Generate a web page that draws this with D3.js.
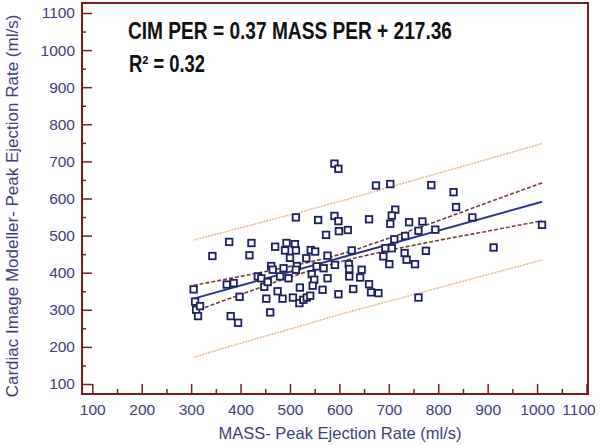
<!DOCTYPE html>
<html><head><meta charset="utf-8">
<script src="https://cdn.jsdelivr.net/npm/d3@7"></script>
<style>body{margin:0;background:#fff}svg{display:block}</style>
</head><body>
<svg id="c" width="600" height="445"></svg>
<script>
// MASS peak ejection rate (x) and CIM peak ejection rate (y), ml/s
const massPER = [305,308,310,314,318,343,377,372,386,380,395,398,418,422,435,442,448,455,452,460,462,465,470,475,480,487,490,493,497,500,485,
590,598,512,557,590,598,660,573,599,617,510,512,542,551,625,533,576,514,512,554,568,591,619,620,645,544,549,546,576,620,642,520,566,598,628,506,519,527,534,541,
674,703,786,713,706,703,741,768,760,794,733,711,693,706,689,701,732,736,753,775,660,664,679,760,831,836,869,1010,912];
const cimPER  = [355,322,300,283,310,445,483,368,372,283,265,335,447,480,390,385,362,375,330,293,418,408,470,350,390,412,460,480,385,440,330,
694,680,549,542,553,539,544,502,512,515,477,460,461,457,460,439,446,418,408,417,412,421,423,410,408,396,381,365,385,390,387,360,354,342,356,333,318,327,333,338,
635,639,636,570,554,532,536,538,513,516,499,490,466,466,444,423,453,435,423,459,369,347,345,333,617,577,549,529,468];

const xTicks = [100,200,300,400,500,600,700,800,900,1000,1100];
const yTicks = [100,200,300,400,500,600,700,800,900,1000,1100];
const xMinor = [150,250,350,450,550,650,750,850,950,1050];
const yMinor = [150,250,350,450,550,650,750,850,950,1050];

// regression line and bands
const fitX = [305,1010];
const fitY = [330.2,591.1];
const bandX   = [305,400,500,600,700,800,900,1010];
const ciUpper = [366,390,417,449,493,540,589,642];
const ciLower = [295,341,388,429,460,487,512,540];
const piUpper = [488,521,556,592,630,668,706,748];
const piLower = [172,210,248,287,323,359,395,434];

const eqText = "CIM PER = 0.37 MASS PER + 217.36";
const r2Text = "R² = 0.32";
const xTitle = "MASS- Peak Ejection Rate (ml/s)";
const yTitle = "Cardiac Image Modeller- Peak Ejection Rate (ml/s)";

const svg = d3.select("#c");
const frame = {x0:82, x1:588, y0:3, y1:394};
const x = d3.scaleLinear().domain([100,1100]).range([92.3,586.5]);
const y = d3.scaleLinear().domain([100,1100]).range([384,13]);
const frameCol = "#7b1c1c";
const textCol = "#3c4075";

svg.append("rect").attr("width",600).attr("height",445).attr("fill","#fff");

// bands
const line = d3.line().x(d=>x(d[0])).y(d=>y(d[1]));
function band(vals, color, dash, w){
  svg.append("path").datum(bandX.map((v,i)=>[v,vals[i]]))
    .attr("d", d3.line().curve(d3.curveMonotoneX).x(d=>x(d[0])).y(d=>y(d[1])))
    .attr("fill","none").attr("stroke",color).attr("stroke-width",w).attr("stroke-dasharray",dash);
}
band(piUpper,"#e9b98c","2,1",1.6);
band(piLower,"#e9b98c","2,1",1.6);
band(ciUpper,"#7a3a3a","4,2",1.6);
band(ciLower,"#7a3a3a","4,2",1.6);

svg.append("path").datum(fitX.map((v,i)=>[v,fitY[i]]))
  .attr("d",line).attr("fill","none").attr("stroke","#2b3590").attr("stroke-width",2);

// points
const s = 6.5;
svg.append("g").selectAll("rect").data(massPER.map((v,i)=>[v,cimPER[i]])).join("rect")
  .attr("x",d=>x(d[0])-s/2).attr("y",d=>y(d[1])-s/2).attr("width",s).attr("height",s)
  .attr("fill","#fff").attr("stroke","#1d2060").attr("stroke-width",1.8);

// axes
function styleAxis(g){
  g.select(".domain").remove();
  g.selectAll("line").attr("stroke",frameCol).attr("stroke-width",1.5);
  g.selectAll("text").attr("fill",textCol).attr("font-family","'Liberation Sans',Arial,sans-serif").attr("font-size","15.5px");
}
svg.append("g").attr("transform",`translate(${frame.x0},0)`)
  .call(d3.axisLeft(y).tickValues(yTicks).tickSize(-10).tickPadding(7).tickFormat(d3.format("d"))).call(styleAxis);
svg.append("g").attr("transform",`translate(${frame.x0},0)`)
  .call(d3.axisLeft(y).tickValues(yMinor).tickSize(-4).tickFormat("")).call(styleAxis);
svg.append("g").attr("transform",`translate(0,${frame.y1})`)
  .call(d3.axisBottom(x).tickValues(xTicks).tickSize(-10).tickPadding(10).tickFormat(d3.format("d"))).call(styleAxis)
  .selectAll("text").filter(d=>d===1100).attr("dx",-8);
svg.append("g").attr("transform",`translate(0,${frame.y1})`)
  .call(d3.axisBottom(x).tickValues(xMinor).tickSize(-5).tickFormat("")).call(styleAxis);

svg.append("rect").attr("x",frame.x0).attr("y",frame.y0)
  .attr("width",frame.x1-frame.x0).attr("height",frame.y1-frame.y0)
  .attr("fill","none").attr("stroke",frameCol).attr("stroke-width",2);

// equation
svg.append("text").attr("x",128).attr("y",39).text(eqText)
  .attr("font-family","'Liberation Sans Narrow','Arial Narrow',sans-serif").attr("font-weight","bold")
  .attr("font-size","23px").attr("fill","#111").attr("textLength",324).attr("lengthAdjust","spacingAndGlyphs");
svg.append("text").attr("x",129).attr("y",72).text(r2Text)
  .attr("font-family","'Liberation Sans Narrow','Arial Narrow',sans-serif").attr("font-weight","bold")
  .attr("font-size","23px").attr("fill","#111").attr("textLength",76).attr("lengthAdjust","spacingAndGlyphs");

// titles
svg.append("text").attr("x",340).attr("y",439).attr("text-anchor","middle").text(xTitle)
  .attr("font-family","'Liberation Sans',Arial,sans-serif").attr("font-size","16.5px").attr("fill",textCol);
svg.append("text").attr("transform","translate(18,206) rotate(-90)").attr("text-anchor","middle").text(yTitle)
  .attr("font-family","'Liberation Sans',Arial,sans-serif").attr("font-size","17px").attr("fill",textCol);
</script>
</body></html>
